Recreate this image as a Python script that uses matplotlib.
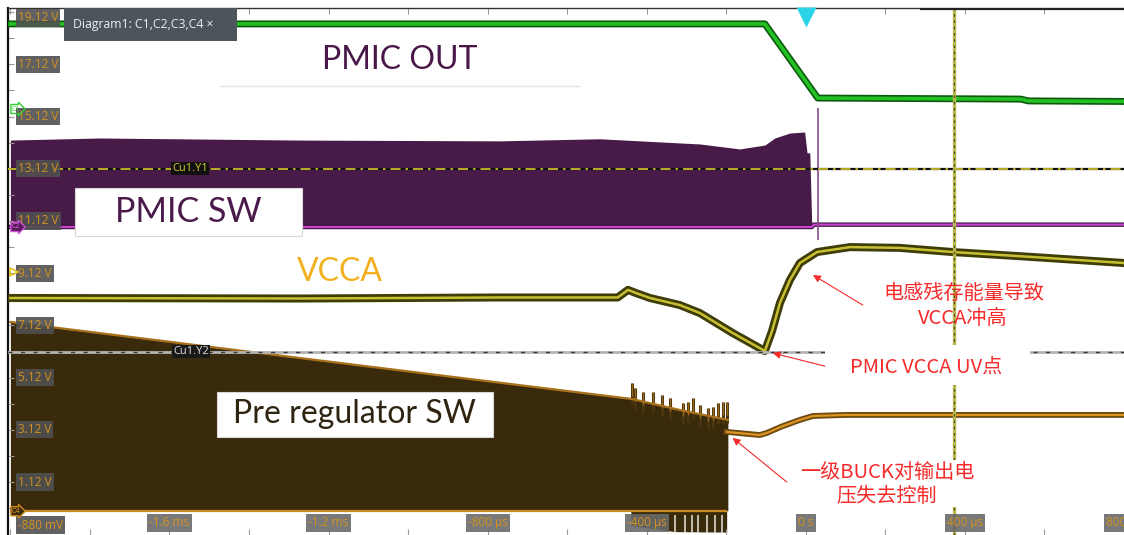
import matplotlib.pyplot as plt
from matplotlib.patches import Rectangle

plt.rcParams['font.family'] = ['Open Sans', 'DejaVu Sans']
CJK = ['Noto Sans CJK SC', 'DejaVu Sans']

# time in microseconds, levels in screen volts (all channels share the grid)
t_lim = (-2006, 799)
v_lim = (-0.91, 19.28)

# C1: PMIC output
out_t = [-2000, -103, 30, 540, 560, 800]
out_v = [18.67, 18.67, 15.83, 15.79, 15.72, 15.70]

# C2: PMIC switch node (envelope of the switching band)
sw_t = [-2000, -1775, -1272, -769, -518, -266, -166, -103, -78, -40, -3, 3, 10, 15]
sw_top = [14.22, 14.30, 14.22, 14.19, 14.27, 14.07, 13.88, 14.03, 14.30, 14.49, 14.53, 13.73, 13.73, 10.90]
sw_low_t = [-2000, 15, 20, 800]
sw_low_v = [10.89, 10.89, 10.98, 10.98]
sw_spike_t = 30
sw_spike_v = [10.39, 15.45]

# C3: VCCA
vcca_t = [-2000, -1272, -769, -473, -447, -427, -392, -317, -266, -184, -103,
          -85, -65, -40, -15, 28, 111, 236, 370, 571, 800]
vcca_v = [8.17, 8.15, 8.19, 8.19, 8.48, 8.36, 8.17, 7.90, 7.59, 6.83, 6.14,
          6.90, 7.98, 8.86, 9.51, 9.93, 10.12, 10.09, 9.93, 9.74, 9.51]

# C4: pre-regulator switch node
preg_t = [-2000, -1272, -618, -437, -317, -196]
preg_top = [7.25, 5.87, 4.64, 4.30, 3.88, 3.50]
preg_base = 0.02
preg_neg_t = [-440, -330, -199]
preg_neg_v = [-0.55, -0.78, -0.80]
preg_gap_t = [-329, -304, -287, -272, -249, -229, -211]
spike_t = [-437, -430, -410, -385, -362, -342, -309, -297, -284, -266, -246, -234, -221, -209, -199]
spike_v = [4.91, 4.72, 4.57, 4.57, 4.45, 4.34, 4.15, 4.19, 4.34, 4.07, 3.96, 3.99, 4.15, 4.19, 4.19]
post_t = [-199, -116, -98, -60, -15, 18, 100, 800]
post_v = [3.04, 2.92, 3.00, 3.25, 3.50, 3.65, 3.69, 3.69]

# cursors
cur_y1 = 13.12
cur_y2 = 6.12
cur_x = 372
trig_t = 0

volt_ticks = [19.12, 17.12, 15.12, 13.12, 11.12, 9.12, 7.12, 5.12, 3.12, 1.12, -0.88]
volt_text = ['19.12 V', '17.12 V', '15.12 V', '13.12 V', '11.12 V', '9.12 V',
             '7.12 V', '5.12 V', '3.12 V', '1.12 V', '-880 mV']
time_ticks = [-1600, -1200, -800, -400, 0, 400, 800]
time_text = ['-1.6 ms', '-1.2 ms', '-800 µs', '-400 µs', '0 s', '400 µs', '800 µs']

RED = '#f52a2a'
LBL = '#d4921e'

fig = plt.figure(figsize=(11.24, 5.35), dpi=100)
ax = fig.add_axes([8 / 1124, 0, 1116 / 1124, 527 / 535])
ax.set_xlim(*t_lim)
ax.set_ylim(*v_lim)
for s in ['right', 'bottom']:
    ax.spines[s].set_visible(False)
ax.spines['left'].set_linewidth(1.6)
ax.spines['left'].set_color('#111111')
ax.spines['top'].set_linewidth(1.0)
ax.spines['top'].set_color('#333333')
ax.hlines(v_lim[1] - 0.03, 287, 800, color='#222222', lw=1.6, zorder=6)
ax.set_xticks(range(-2000, 801, 200))
ax.set_yticks([v + 0.12 for v in range(0, 20)])
ax.tick_params(direction='in', length=4, color='#999999', labelleft=False,
               labelbottom=False, top=True, width=0.8)

# PMIC switch node
ax.fill_between(sw_t, sw_low_v[0], sw_top, color='#471a47', lw=0, zorder=1)
ax.plot(sw_low_t, sw_low_v, color='#3a103a', lw=3.2, zorder=2)
ax.plot(sw_low_t, sw_low_v, color='#c545cc', lw=1.6, zorder=2)
ax.vlines(sw_spike_t, *sw_spike_v, color='#8a4a8a', lw=1.2, zorder=2)

# pre-regulator switch node
ax.fill_between(preg_t, preg_base, preg_top, color='#3a2a0c', lw=0, zorder=1)
ax.fill_between(preg_neg_t, preg_neg_v, preg_base, color='#3a2a0c', lw=0, zorder=1)
ax.vlines(preg_gap_t, -0.82, -0.15, color='#e8e4dc', lw=1.1, zorder=1.5)
ax.vlines(spike_t, [v - 0.8 for v in spike_v], spike_v, color='#4a340e', lw=2.2, zorder=1.8)
ax.vlines(spike_t, [v - 0.5 for v in spike_v], spike_v, color='#9a6a1a', lw=0.9, zorder=1.9)
ax.plot(preg_t, preg_top, color='#a8701a', lw=1.6, zorder=2)
ax.hlines(preg_base, -2000, -199, color='#c88a20', lw=1.6, zorder=2)
ax.plot(post_t, post_v, color='#6a4a10', lw=4.2, zorder=2)
ax.plot(post_t, post_v, color='#dc9422', lw=1.6, zorder=2)

# PMIC output
ax.plot(out_t, out_v, color='#0d5a0d', lw=5.0, zorder=3)
ax.plot(out_t, out_v, color='#22c022', lw=2.6, zorder=3)

# VCCA
ax.plot(vcca_t, vcca_v, color='#3e3d08', lw=5.8, zorder=3)
ax.plot(vcca_t, vcca_v, color='#c8c030', lw=1.8, zorder=3)

# horizontal cursors
ax.axhline(cur_y1, color='#111111', lw=1.6, zorder=3.5)
ax.axhline(cur_y1, color='#d4c828', lw=1.2, ls=(0, (6, 3, 1.5, 3)), zorder=3.6)
ax.axhline(cur_y2, color='#b4b4b4', lw=2.0, zorder=3.5)
ax.axhline(cur_y2, color='#3a3a3a', lw=1.0, ls=(0, (3, 6)), zorder=3.6)
ax.text(-1548, cur_y1, 'Cu1.Y1', color='#d8cc30', fontsize=8, ha='center', va='center',
        bbox=dict(boxstyle='square,pad=0.1', fc='#111111', ec='none'), zorder=4)
ax.text(-1546, cur_y2, 'Cu1.Y2', color='#dddddd', fontsize=8, ha='center', va='center',
        bbox=dict(boxstyle='square,pad=0.1', fc='#1a1a1a', ec='none'), zorder=4)

# vertical cursor and trigger
ax.axvline(cur_x, color='#b8b84a', lw=2.4, zorder=4)
ax.axvline(cur_x, color='#4a4a2a', lw=0.9, ls=(0, (2, 3)), zorder=4.1)
ax.plot(trig_t, 18.95, marker='v', ms=14, color='#2ad4e8', mec='none', zorder=6,
        clip_on=False)

# channel tags
ax.text(-1996, 15.41, 'C1', color='#30d030', fontsize=5, va='center',
        bbox=dict(boxstyle='rarrow,pad=0.15', fc='none', ec='#30d030', lw=1), zorder=6)
ax.text(-1996, 10.89, 'C2', color='#e070e0', fontsize=5, va='center',
        bbox=dict(boxstyle='rarrow,pad=0.15', fc='#5a1a5a', ec='#d050d8', lw=1), zorder=6)
ax.plot(-1992, 9.17, marker='>', ms=6, mfc='none', mec='#e8c020', mew=1.2, zorder=6)
ax.text(-1996, 0.0, 'C4', color='#e8a030', fontsize=5, va='center',
        bbox=dict(boxstyle='rarrow,pad=0.15', fc='#3a2a0c', ec='#d08a20', lw=1), zorder=6)

# axis label chips
for v, s in zip(volt_ticks, volt_text):
    ax.text(-1981, min(max(v, -0.53), 18.9), s, color=LBL, fontsize=8.5, va='center',
            bbox=dict(boxstyle='square,pad=0.18', fc='#505050', ec='none', alpha=0.9),
            zorder=5)
for t, s in zip(time_ticks, time_text):
    ax.text(t, -0.45, s, color=LBL, fontsize=8.5, ha='center', va='center',
            bbox=dict(boxstyle='square,pad=0.18', fc='#6a6a6a', ec='none', alpha=0.9),
            zorder=5, clip_on=False)

# diagram tab
ax.add_patch(Rectangle((-1865, 18.02), 435, 1.3, fc='#4c545c', ec='none', zorder=7))
ax.text(-1843, 18.64, 'Diagram1: C1,C2,C3,C4 ×', color='#eeeeee', fontsize=8.8,
        va='center', zorder=8)

# signal name boxes
ax.hlines(16.29, -1473, -568, color='#e4e4e4', lw=1, zorder=4)
ax.text(-1020, 17.29, 'PMIC OUT', family='Lato', fontsize=23, color='#4a1848',
        ha='center', va='center', zorder=6)
ax.add_patch(Rectangle((-1838, 10.55), 571, 1.83, fc='white', ec='#d8d8d8', lw=0.8, zorder=5))
ax.text(-1552, 11.45, 'PMIC SW', family='Lato', fontsize=24.5, color='#4a1a4a',
        ha='center', va='center', zorder=6)
ax.text(-1171, 9.17, 'VCCA', family='Lato', fontsize=23, color='#f2b01e',
        ha='center', va='center', zorder=6)
ax.add_patch(Rectangle((-1481, 2.84), 694, 1.73, fc='white', ec='#d8d8d8', lw=0.8, zorder=5))
ax.text(-1134, 3.72, 'Pre regulator SW', family='Lato', fontsize=23, color='#2f2410',
        ha='center', va='center', zorder=6)

# red annotations
ax.add_patch(Rectangle((48, 4.84), 515, 1.53, fc='white', ec='none', zorder=5))
ax.add_patch(Rectangle((-40, 0.16), 490, 1.80, fc='white', ec='none', zorder=5))
ax.text(397, 8.36, '电感残存能量导致', family=CJK, fontsize=14.5, color=RED,
        ha='center', va='center', zorder=6)
ax.text(395, 7.40, 'VCCA冲高', family=CJK, fontsize=14.5, color=RED,
        ha='center', va='center', zorder=6)
ax.text(302, 5.53, 'PMIC VCCA UV点', family=CJK, fontsize=14.5, color=RED,
        ha='center', va='center', zorder=6)
ax.text(204, 1.50, '一级BUCK对输出电', family=CJK, fontsize=14.5, color=RED,
        ha='center', va='center', zorder=6)
ax.text(204, 0.55, '压失去控制', family=CJK, fontsize=14.5, color=RED,
        ha='center', va='center', zorder=6)
arrow = dict(arrowstyle='-|>', color=RED, lw=0.8, mutation_scale=11, shrinkA=0, shrinkB=0)
ax.annotate('', xy=(18, 9.05), xytext=(143, 7.90), arrowprops=arrow, zorder=6)
ax.annotate('', xy=(-83, 6.06), xytext=(48, 5.56), arrowprops=arrow, zorder=6)
ax.annotate('', xy=(-184, 2.81), xytext=(-48, 1.12), arrowprops=arrow, zorder=6)

fig.savefig('out.png', dpi=100)
